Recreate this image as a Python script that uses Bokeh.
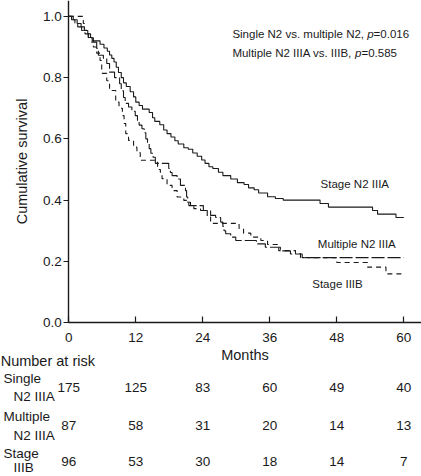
from bokeh.plotting import figure
from bokeh.models import Range1d, FixedTicker, NumeralTickFormatter, ColumnDataSource
from bokeh.core.properties import value
from bokeh.embed import file_html
from bokeh.resources import INLINE

# ---- data ----
single_t = [0, 0.8, 1.5, 2.2, 2.8, 3.4, 3.9, 4.2, 5.6, 6.3, 6.9, 7.3, 7.7, 8.1, 8.5, 8.9, 9.4, 9.8,
            10.3, 11.0, 11.6, 12.0, 12.6, 13.2, 14.4, 15.0, 15.4, 16.3, 17.0, 17.6, 18.3, 19.0, 19.6,
            20.6, 21.4, 22.2, 23.0, 23.8, 24.4, 25.1, 25.8, 26.8, 27.6, 29.0, 30.2, 31.4, 32.2, 33.2,
            34.0, 35.6, 37.0, 38.4, 45.0, 46.5, 54.4, 55.3, 58.6, 60.0]
single_s = [1.0, 0.989, 0.977, 0.966, 0.954, 0.943, 0.931, 0.92, 0.909, 0.897, 0.886, 0.874, 0.863,
            0.851, 0.834, 0.817, 0.8, 0.783, 0.771, 0.754, 0.737, 0.72, 0.709, 0.697, 0.686, 0.669,
            0.657, 0.646, 0.629, 0.617, 0.606, 0.594, 0.583, 0.571, 0.566, 0.554, 0.543, 0.531, 0.52,
            0.509, 0.503, 0.491, 0.48, 0.469, 0.457, 0.451, 0.44, 0.434, 0.423, 0.411, 0.405, 0.4,
            0.389, 0.377, 0.366, 0.354, 0.343, 0.343]

multi_t = [0, 0.5, 1.1, 1.6, 2.3, 2.9, 3.5, 4.1, 5.0, 5.3, 6.2, 6.8, 7.3, 8.2, 9.1, 9.4, 9.8, 10.1,
           10.7, 11.3, 11.9, 12.3, 12.6, 13.1, 13.5, 13.8, 14.1, 14.4, 14.7, 15.1, 15.5, 17.9, 18.2,
           18.5, 19.4, 20.0, 20.9, 21.1, 21.3, 21.8, 24.1, 25.4, 26.3, 27.2, 27.6, 27.8, 28.1, 29.0,
           29.9, 33.6, 35.2, 37.9, 39.7, 41.8, 60.0]
multi_s = [1.0, 0.989, 0.977, 0.966, 0.954, 0.943, 0.931, 0.916, 0.895, 0.873, 0.863, 0.846, 0.818,
           0.8, 0.78, 0.757, 0.735, 0.716, 0.704, 0.69, 0.676, 0.66, 0.645, 0.633, 0.62, 0.6, 0.584,
           0.568, 0.553, 0.54, 0.52, 0.503, 0.49, 0.48, 0.469, 0.448, 0.431, 0.41, 0.393, 0.382,
           0.366, 0.35, 0.343, 0.328, 0.314, 0.3, 0.29, 0.279, 0.268, 0.257, 0.246, 0.234, 0.224,
           0.212, 0.212]

iiib_t = [0, 2.6, 2.8, 3.5, 4.4, 5.0, 5.6, 5.9, 6.8, 7.3, 8.4, 9.0, 9.6, 9.9, 10.2, 10.7, 11.6, 12.2,
          12.8, 15.9, 16.4, 16.7, 17.6, 18.5, 19.4, 20.6, 21.5, 22.4, 23.6, 24.8, 25.4, 30.5, 31.3,
          32.6, 34.4, 35.6, 37.6, 40.6, 41.5, 48.0, 53.5, 56.8, 60.0]
iiib_s = [1.0, 0.977, 0.955, 0.93, 0.9, 0.88, 0.856, 0.814, 0.79, 0.758, 0.72, 0.7, 0.676, 0.65,
          0.617, 0.595, 0.573, 0.555, 0.53, 0.5, 0.49, 0.47, 0.448, 0.431, 0.41, 0.399, 0.382, 0.372,
          0.366, 0.345, 0.324, 0.307, 0.292, 0.279, 0.268, 0.255, 0.235, 0.225, 0.212, 0.196, 0.181,
          0.159, 0.159]

risk_months = [0, 12, 24, 36, 48, 60]
risk_single = [175, 125, 83, 60, 49, 40]
risk_multi = [87, 58, 31, 20, 14, 13]
risk_iiib = [96, 53, 30, 18, 14, 7]
risk_groups = [("Single", "N2 IIIA"), ("Multiple", "N2 IIIA"), ("Stage", "IIIB")]

x_ticks = [0, 12, 24, 36, 48, 60]
y_ticks = [0.0, 0.2, 0.4, 0.6, 0.8, 1.0]

FONT = "Liberation Sans"
INK = "#1a1a1a"

# the frame spans the whole canvas; axes are pinned at x=0 / y=0 so the
# number-at-risk table can sit below the survival plot in the same scales
p = figure(width=421, height=476, output_backend="svg", toolbar_location=None,
           x_range=Range1d(-12.23, 63.17), y_range=Range1d(-0.503, 1.052),
           min_border=0)
p.outline_line_color = None
p.grid.visible = False
p.background_fill_color = "white"
p.border_fill_color = "white"

p.step(single_t, single_s, mode="after", line_color=INK, line_width=1.1)
p.step(multi_t, multi_s, mode="after", line_color=INK, line_width=1.1, line_dash="13 3")
p.step(iiib_t, iiib_s, mode="after", line_color=INK, line_width=1.1, line_dash="5 4")

# axes
xa = p.xaxis[0]
ya = p.yaxis[0]
xa.fixed_location = 0
xa.bounds = (0, 63.1)
ya.fixed_location = 0
ya.bounds = (0, 1.052)
xa.ticker = FixedTicker(ticks=x_ticks)
ya.ticker = FixedTicker(ticks=y_ticks)
ya.formatter = NumeralTickFormatter(format="0.0")
for ax in (xa, ya):
    ax.axis_line_color = INK
    ax.axis_line_width = 1.4
    ax.major_tick_line_color = INK
    ax.major_tick_line_width = 1.2
    ax.minor_tick_line_color = None
    ax.major_label_text_font = FONT
    ax.major_label_text_font_size = "13.5px"
    ax.major_label_text_color = INK
    ax.axis_label_text_font = FONT
    ax.axis_label_text_font_size = "14.5px"
    ax.axis_label_text_font_style = "normal"
    ax.axis_label_text_color = INK
xa.major_tick_in = 6
xa.major_tick_out = 0
xa.major_label_standoff = 10
xa.axis_label = "Months"
xa.axis_label_standoff = 2
ya.major_tick_in = 0
ya.major_tick_out = 5
ya.major_label_standoff = 2
ya.axis_label = "Cumulative survival"
ya.axis_label_standoff = 10


def txt(x, y, text, size="11.5px", style="normal", xoff=0, align="left"):
    p.text(x=[x], y=[y], text=[text], x_offset=xoff, text_font=value(FONT),
           text_font_size=value(size), text_font_style=style, text_color=INK,
           text_baseline="middle", text_align=align)


# p-value annotations
txt(29.3, 0.944, "Single N2 vs. multiple N2, ")
txt(29.3, 0.944, "p", style="italic", xoff=134.8)
txt(29.3, 0.944, "=0.016", xoff=141.2)
txt(29.3, 0.882, "Multiple N2 IIIA vs. IIIB, ")
txt(29.3, 0.882, "p", style="italic", xoff=122.7)
txt(29.3, 0.882, "=0.585", xoff=129.1)

# curve labels
txt(45.1, 0.454, "Stage N2 IIIA")
txt(44.6, 0.258, "Multiple N2 IIIA")
txt(43.6, 0.127, "Stage IIIB")

# number at risk table
txt(-12.2, -0.127, "Number at risk", size="14.5px")
row_y = [-0.211, -0.337, -0.455]
line1_dy = [0.029, 0.029, 0.026]
line2_dy = [-0.032, -0.032, -0.019]
for counts, (l1, l2), ry, d1, d2 in zip([risk_single, risk_multi, risk_iiib], risk_groups,
                                        row_y, line1_dy, line2_dy):
    txt(-11.7, ry + d1, l1, size="13.5px")
    txt(-9.9, ry + d2, l2, size="13.5px")
    src = ColumnDataSource(dict(x=risk_months, y=[ry] * len(risk_months),
                                t=[str(c) for c in counts]))
    p.text(x="x", y="y", text="t", source=src, text_font=value(FONT),
           text_font_size=value("13.5px"), text_color=INK, text_align="center",
           text_baseline="middle")

open("out.html", "w").write(file_html(p, INLINE))
